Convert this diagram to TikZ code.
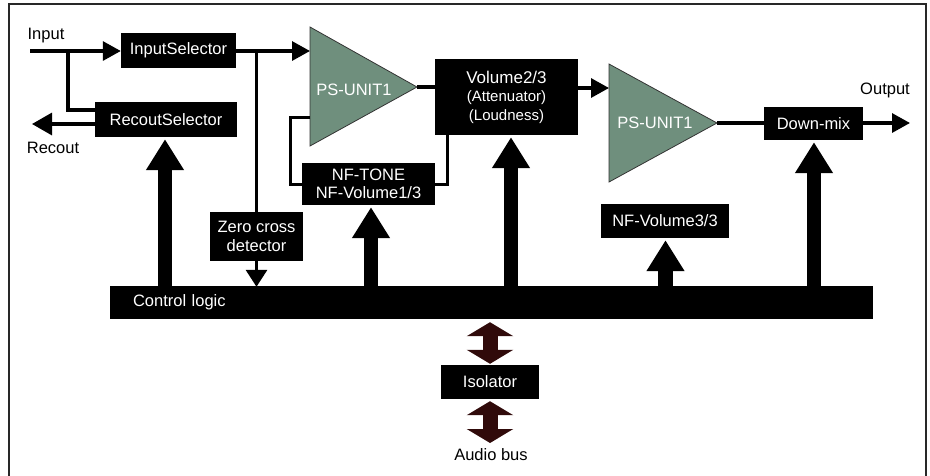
\documentclass[tikz,border=0pt]{standalone}
\usepackage{fontspec}
\setmainfont{Liberation Sans}
\usetikzlibrary{arrows.meta,calc}
\definecolor{psgreen}{RGB}{111,143,125}
\definecolor{isobrown}{RGB}{48,10,10}
\definecolor{framegray}{RGB}{40,40,40}
\newcommand\fsMain{\fontsize{16.5}{19.5}\selectfont}
\newcommand\fsVol{\fontsize{17}{19.5}\selectfont}
\newcommand\fsSmall{\fontsize{15}{17.5}\selectfont}
\begin{document}
\begin{tikzpicture}[x=1pt,y=-1pt,
  blk/.style={fill=black,text=white,inner sep=0pt,align=center,font=\fsMain},
  lbl/.style={inner sep=0pt,font=\fsMain},
  pstext/.style={inner sep=0pt,text=white,font=\fsMain},
  sig/.style={line width=3.2pt},
  fbline/.style={line width=3pt},
  sigarrow/.style={sig,-{Triangle[length=18pt,width=19pt]}},
  bigarrow/.style={line width=14.5pt,-{Triangle[length=31pt,width=36pt]},shorten >=2pt},
  isoarrow/.style={draw=isobrown,line width=15pt,
    {Triangle[length=14pt,width=46pt]}-{Triangle[length=14pt,width=46pt]}},
  psshape/.style={fill=psgreen,draw=black!80,line width=0.8pt,line join=miter}
]
\useasboundingbox (0,0) rectangle (930,475);
% frame
\draw[framegray,line width=1.5pt] (9,480) -- (9,4) -- (926,4) -- (926,480);

% boxes
\node[blk,minimum width=115,minimum height=35] (insel) at (178.5,50.5) {InputSelector};
\node[blk,minimum width=142,minimum height=35] (recsel) at (166,119.5) {RecoutSelector};
\node[blk,minimum width=143,minimum height=76] (vol) at (506.5,97)
  {{\fsVol Volume2/3}\\[-1pt]{\fsSmall(Attenuator)}\\[-1pt]{\fsSmall(Loudness)}};
\node[blk,minimum width=133,minimum height=42] (nftone) at (368.5,184) {NF-TONE\\[-1pt]NF-Volume1/3};
\node[blk,minimum width=93,minimum height=49] (zcd) at (256.5,236.5) {Zero cross\\[-1pt]detector};
\node[blk,minimum width=128,minimum height=34] (nfvol3) at (665,221) {NF-Volume3/3};
\node[blk,minimum width=99,minimum height=33] (downmix) at (813.5,123.5) {Down-mix};
\node[blk,minimum height=33,text width=717pt,inner xsep=23pt,align=left] (ctrl) at (491.5,302.5) {Control logic};
\node[blk,minimum width=98,minimum height=34] (iso) at (490,382) {Isolator};

% amplifiers
\coordinate (ps1a) at (310,27);
\coordinate (ps1b) at (310,146);
\coordinate (ps1tip) at (417,87);
\draw[psshape] (ps1a) -- (ps1tip) -- (ps1b) -- cycle;
\node[pstext] (ps1) at (354,90) {PS-UNIT1};
\coordinate (ps2a) at (609,64);
\coordinate (ps2b) at (609,182);
\coordinate (ps2tip) at (717,123);
\draw[psshape] (ps2a) -- (ps2tip) -- (ps2b) -- cycle;
\node[pstext] (ps2) at (655,123) {PS-UNIT1};

% labels
\node[lbl] (inlbl) at (46,36) {Input};
\node[lbl] (reclbl) at (53,148) {Recout};
\node[lbl] (outlbl) at (885,90) {Output};
\node[lbl] (audiolbl) at (491,455) {Audio bus};

% signal connectors
\coordinate (inL) at (30,51);
\draw[sigarrow] (inL) -- (inL -| insel.west);
\coordinate (br) at (68,51);
\draw[sig] (br) |- ([yshift=9.5pt]recsel.west);
\coordinate (recout) at (32,124);
\draw[sig,-{Triangle[length=20pt,width=22pt]}] (recout -| recsel.west) -- (recout);
\coordinate (ps1in) at (310,51);
\draw[sigarrow] (ps1in -| insel.east) -- (ps1in);
\draw[sig] (zcd.north |- ps1in) -- (zcd.north);
\draw[sig,-{Triangle[length=17pt,width=21pt]}] (zcd.south) -- ([yshift=-1pt]zcd.south |- ctrl.north);
\draw[sig] (ps1tip) -- (ps1tip -| vol.west);
\coordinate (ps1fb) at (310,117);
\draw[fbline] (ps1fb) -- ++(-20,0) |- (nftone.west);
\draw[fbline] (nftone.east) -- ++(12,0) coordinate (fbt) -- (fbt |- vol.south);
\coordinate (ps2in) at (609,88);
\draw[sigarrow] (ps2in -| vol.east) -- (ps2in);
\draw[sig] (ps2tip) -- (ps2tip -| downmix.west);
\coordinate (out) at (910,123);
\draw[sigarrow] (out -| downmix.east) -- (out);

% control arrows
\path ([xshift=-1pt]recsel.south) coordinate (t1);
\path ([xshift=2.5pt]nftone.south) coordinate (t2);
\path ([xshift=4.5pt]vol.south) coordinate (t3);
\path ([xshift=0.5pt]nfvol3.south) coordinate (t4);
\path ([xshift=0.5pt]downmix.south) coordinate (t5);
\draw[bigarrow] (ctrl.north -| t1) -- (t1);
\draw[bigarrow] (ctrl.north -| t2) -- (t2);
\draw[bigarrow] (ctrl.north -| t3) -- (t3);
\draw[bigarrow] (ctrl.north -| t4) -- (t4);
\draw[bigarrow] (ctrl.north -| t5) -- (t5);

% isolator arrows
\coordinate (audio) at (490,443);
\draw[isoarrow,shorten <=3pt,shorten >=1pt] (iso.north |- ctrl.south) -- (iso.north);
\draw[isoarrow,shorten <=2pt] (iso.south) -- (audio);
\end{tikzpicture}
\end{document}
